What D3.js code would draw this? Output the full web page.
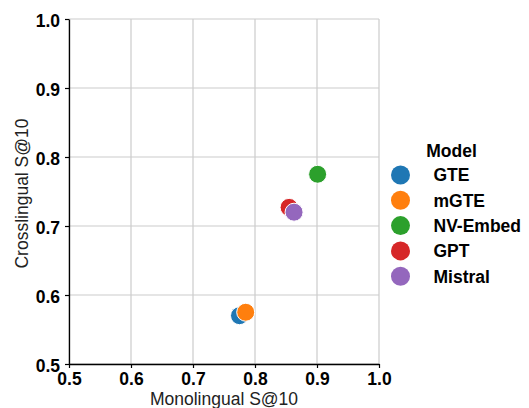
<!DOCTYPE html>
<html>
<head>
<meta charset="utf-8" />
<script src="https://cdn.jsdelivr.net/npm/d3@7"></script>
<style>
  html, body { margin: 0; padding: 0; background: #fff; overflow: hidden; }
  body { font-family: "Liberation Sans", Arial, sans-serif; }
  .tick text { font-weight: 700; font-size: 17.5px; fill: #000; }
</style>
</head>
<body>
<svg id="chart" width="529" height="408"></svg>
<script>
  // data
  const models = ["GTE", "mGTE", "NV-Embed", "GPT", "Mistral"];
  const mono = [0.775, 0.785, 0.901, 0.855, 0.863];
  const cross = [0.570, 0.575, 0.775, 0.727, 0.720];
  const colors = ["#1f77b4", "#ff7f0e", "#2ca02c", "#d62728", "#9467bd"];
  const ticks = [0.5, 0.6, 0.7, 0.8, 0.9, 1.0];

  const svg = d3.select("#chart");
  const margin = { top: 19, left: 69, right: 150, bottom: 44 };
  const innerWidth = 379 - margin.left;
  const innerHeight = 364 - margin.top;
  const g = svg.append("g").attr("transform", `translate(${margin.left}, ${margin.top})`);

  const xScale = d3.scaleLinear().domain([0.5, 1.0]).range([0, innerWidth]);
  const yScale = d3.scaleLinear().domain([0.5, 1.0]).range([innerHeight, 0]);

  // grid
  g.selectAll(".gx").data(ticks).join("line")
    .attr("x1", d => xScale(d)).attr("x2", d => xScale(d))
    .attr("y1", 0).attr("y2", innerHeight)
    .attr("stroke", "#cccccc").attr("stroke-width", 1.2);
  g.selectAll(".gy").data(ticks).join("line")
    .attr("y1", d => yScale(d)).attr("y2", d => yScale(d))
    .attr("x1", 0).attr("x2", innerWidth)
    .attr("stroke", "#cccccc").attr("stroke-width", 1.2);

  const xAxis = g.append("g").attr("transform", `translate(0, ${innerHeight})`)
    .call(d3.axisBottom(xScale).tickValues(ticks).tickFormat(d3.format(".1f")).tickSize(4).tickSizeOuter(0));
  const yAxis = g.append("g")
    .call(d3.axisLeft(yScale).tickValues(ticks).tickFormat(d3.format(".1f")).tickSize(4).tickSizeOuter(0));
  [xAxis, yAxis].forEach(a => {
    a.select(".domain").attr("stroke", "#000").attr("stroke-width", 1.3);
    a.selectAll(".tick line").attr("stroke", "#000").attr("stroke-width", 1.2);
    a.attr("font-family", null).attr("font-size", null);
  });
  xAxis.selectAll(".tick text").attr("y", 21).attr("dy", 0);
  yAxis.selectAll(".tick text").attr("x", -9).attr("dy", "0.4em");

  // points
  g.selectAll(".pt").data(models).join("circle")
    .attr("cx", (d, i) => xScale(mono[i]))
    .attr("cy", (d, i) => yScale(cross[i]))
    .attr("r", 9)
    .attr("fill", (d, i) => colors[i])
    .attr("stroke", "#fff").attr("stroke-width", 1);

  // axis labels
  svg.append("text").attr("x", margin.left + innerWidth / 2).attr("y", 405)
    .attr("text-anchor", "middle").attr("font-size", 17.5).attr("fill", "#222")
    .text("Monolingual S@10");
  svg.append("text").attr("transform", `translate(28, ${margin.top + innerHeight / 2 + 2}) rotate(-90)`)
    .attr("text-anchor", "middle").attr("font-size", 17.5).attr("fill", "#222")
    .text("Crosslingual S@10");

  // legend
  const leg = svg.append("g").attr("transform", "translate(400.5, 150)");
  leg.append("text").attr("x", 51).attr("y", 7).attr("text-anchor", "middle")
    .attr("font-size", 17.5).attr("font-weight", 700).text("Model");
  leg.selectAll(".li").data(models).join("circle")
    .attr("cx", 0).attr("cy", (d, i) => 25 + i * 25.3).attr("r", 9.5)
    .attr("fill", (d, i) => colors[i]);
  leg.selectAll(".lt").data(models).join("text")
    .attr("x", 33).attr("y", (d, i) => 25 + i * 25.3).attr("dy", "0.36em")
    .attr("font-size", 17.5).attr("font-weight", 700).text(d => d);
</script>
</body>
</html>
